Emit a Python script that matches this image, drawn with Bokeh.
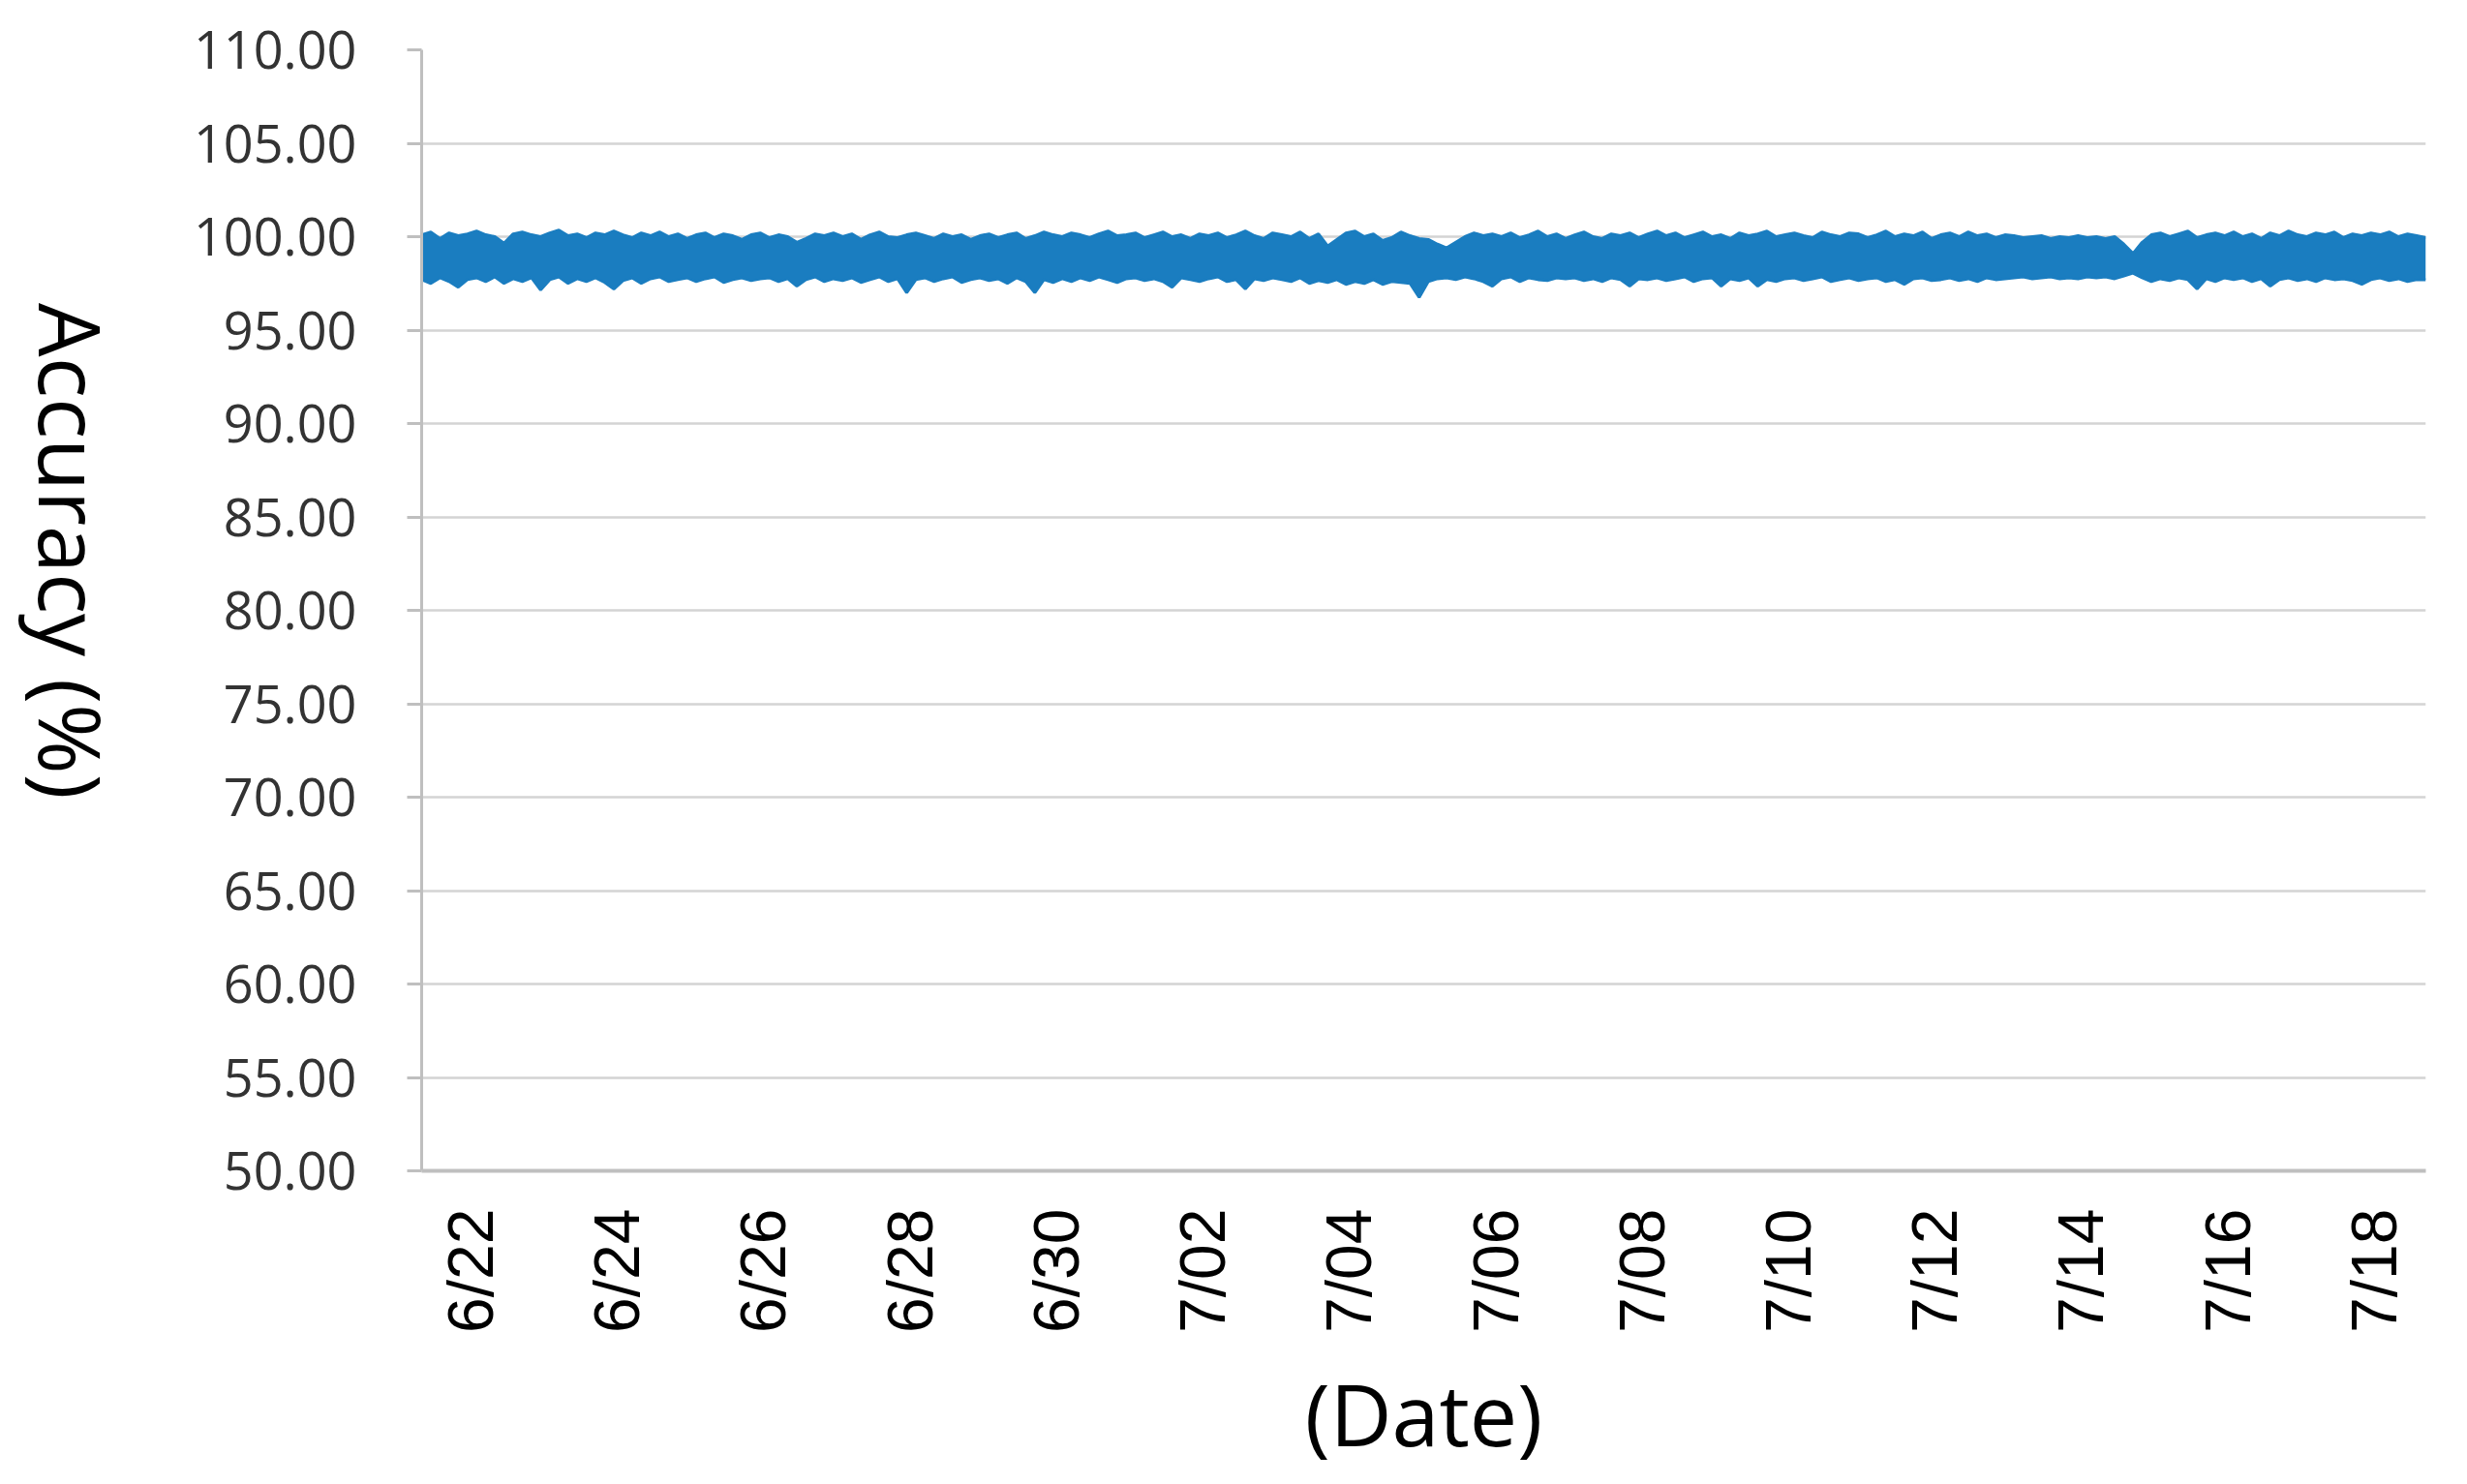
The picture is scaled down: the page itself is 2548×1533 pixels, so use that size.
from math import pi
import pandas as pd
from bokeh.plotting import figure
from bokeh.layouts import row
from bokeh.core.properties import value
from bokeh.models import FixedTicker, PrintfTickFormatter, Range1d, ColumnDataSource
from bokeh.embed import file_html
from bokeh.resources import INLINE

# ---------------- data ----------------
start_time = "2020-06-21 08:00"
end_time = "2020-07-18 17:00"
step = "3h"

# upper edge of the accuracy trace (%), 3-hour steps
upper = [
    100.1, 100.25, 99.9, 100.2, 100.05, 100.15,                  # 6/21 (from 08h)
    100.3, 100.1, 100.0, 99.65, 100.15, 100.25, 100.1, 100.0,     # 6/22
    100.2, 100.35, 100.05, 100.15, 99.95, 100.2, 100.1, 100.3,    # 6/23
    100.1, 99.95, 100.2, 100.05, 100.25, 100.0, 100.15, 99.9,     # 6/24
    100.1, 100.2, 99.95, 100.15, 100.05, 99.85, 100.1, 100.2,     # 6/25
    99.95, 100.1, 100.0, 99.7, 99.9, 100.15, 100.05, 100.2,       # 6/26
    100.0, 100.15, 99.85, 100.1, 100.25, 100.0, 99.95, 100.1,     # 6/27
    100.2, 100.05, 99.9, 100.15, 100.0, 100.1, 99.85, 100.05,     # 6/28
    100.15, 99.95, 100.1, 100.2, 99.9, 100.05, 100.25, 100.1,     # 6/29
    100.0, 100.2, 100.1, 99.95, 100.15, 100.3, 100.05, 100.1,     # 6/30
    100.2, 99.95, 100.1, 100.25, 100.0, 100.1, 99.9, 100.15,      # 7/01
    100.05, 100.2, 99.95, 100.1, 100.3, 100.05, 99.9, 100.2,      # 7/02
    100.1, 100.0, 100.25, 99.9, 100.15, 99.5, 99.85, 100.2,       # 7/03
    100.3, 100.0, 100.15, 99.8, 99.95, 100.25, 100.05, 99.9,      # 7/04
    99.85, 99.6, 99.4, 99.7, 100.0, 100.2, 100.05, 100.15,        # 7/05
    100.0, 100.2, 99.95, 100.1, 100.3, 100.0, 100.15, 99.9,       # 7/06
    100.1, 100.25, 100.0, 99.9, 100.15, 100.05, 100.2, 99.95,     # 7/07
    100.15, 100.3, 100.05, 100.2, 99.95, 100.1, 100.25, 100.0,    # 7/08
    100.1, 99.9, 100.2, 100.05, 100.15, 100.3, 100.0, 100.1,      # 7/09
    100.2, 100.05, 99.95, 100.25, 100.1, 100.0, 100.2, 100.15,    # 7/10
    99.95, 100.1, 100.3, 100.0, 100.15, 100.05, 100.25, 99.9,     # 7/11
    100.1, 100.2, 100.0, 100.25, 100.05, 100.15, 99.95, 100.1,    # 7/12
    100.05, 99.95, 100.0, 100.05, 99.9, 100.0, 99.95, 100.05,     # 7/13
    99.95, 100.0, 99.9, 100.0, 99.6, 99.1, 99.7, 100.1,           # 7/14
    100.2, 100.0, 100.15, 100.3, 99.95, 100.1, 100.2, 100.05,     # 7/15
    100.25, 100.0, 100.15, 99.9, 100.2, 100.05, 100.3, 100.1,     # 7/16
    100.0, 100.2, 100.1, 100.25, 99.95, 100.15, 100.05, 100.2,    # 7/17
    100.1, 100.25, 100.0, 100.15, 100.05, 99.95,                  # 7/18 (to 17h)
]

# lower edge of the accuracy trace (%), 3-hour steps
lower = [
    97.7, 97.5, 97.8, 97.6, 97.3, 97.7,                           # 6/21
    97.8, 97.6, 97.85, 97.5, 97.75, 97.6, 97.8, 97.15,            # 6/22
    97.7, 97.85, 97.5, 97.75, 97.6, 97.8, 97.55, 97.2,            # 6/23
    97.65, 97.8, 97.5, 97.75, 97.85, 97.6, 97.7, 97.8,            # 6/24
    97.6, 97.75, 97.85, 97.55, 97.7, 97.8, 97.65, 97.75,          # 6/25
    97.8, 97.6, 97.75, 97.35, 97.7, 97.85, 97.6, 97.75,           # 6/26
    97.65, 97.8, 97.55, 97.7, 97.85, 97.6, 97.75, 97.0,           # 6/27
    97.7, 97.8, 97.6, 97.75, 97.85, 97.55, 97.7, 97.8,            # 6/28
    97.65, 97.75, 97.5, 97.8, 97.6, 97.0, 97.7, 97.55,            # 6/29
    97.75, 97.6, 97.8, 97.65, 97.85, 97.7, 97.55, 97.75,          # 6/30
    97.8, 97.65, 97.75, 97.6, 97.3, 97.8, 97.7, 97.6,             # 7/01
    97.75, 97.85, 97.6, 97.7, 97.2, 97.75, 97.65, 97.8,           # 7/02
    97.7, 97.6, 97.8, 97.5, 97.65, 97.55, 97.7, 97.45,            # 7/03
    97.6, 97.5, 97.7, 97.45, 97.6, 97.55, 97.5, 96.75,            # 7/04
    97.6, 97.75, 97.8, 97.7, 97.85, 97.75, 97.6, 97.35,           # 7/05
    97.75, 97.85, 97.6, 97.8, 97.7, 97.65, 97.8, 97.75,           # 7/06
    97.8, 97.65, 97.75, 97.6, 97.8, 97.7, 97.35, 97.75,           # 7/07
    97.7, 97.8, 97.65, 97.75, 97.85, 97.6, 97.75, 97.8,           # 7/08
    97.35, 97.75, 97.65, 97.8, 97.35, 97.7, 97.6, 97.75,          # 7/09
    97.8, 97.65, 97.75, 97.85, 97.6, 97.7, 97.8, 97.65,           # 7/10
    97.75, 97.8, 97.6, 97.7, 97.45, 97.75, 97.8, 97.65,           # 7/11
    97.7, 97.8, 97.65, 97.75, 97.6, 97.8, 97.7, 97.75,            # 7/12
    97.8, 97.85, 97.75, 97.8, 97.85, 97.75, 97.8, 97.75,          # 7/13
    97.85, 97.8, 97.85, 97.75, 97.9, 98.05, 97.8, 97.6,           # 7/14
    97.75, 97.65, 97.8, 97.7, 97.2, 97.75, 97.6, 97.8,            # 7/15
    97.7, 97.8, 97.6, 97.75, 97.35, 97.7, 97.8, 97.65,            # 7/16
    97.75, 97.6, 97.8, 97.7, 97.75, 97.65, 97.45, 97.7,           # 7/17
    97.8, 97.65, 97.75, 97.6, 97.7, 97.7,                         # 7/18
]

y_ticks = [50, 55, 60, 65, 70, 75, 80, 85, 90, 95, 100, 105, 110]
tick_dates = ["2020-06-22", "2020-06-24", "2020-06-26", "2020-06-28", "2020-06-30",
              "2020-07-02", "2020-07-04", "2020-07-06", "2020-07-08", "2020-07-10",
              "2020-07-12", "2020-07-14", "2020-07-16", "2020-07-18"]
tick_labels = ["6/22", "6/24", "6/26", "6/28", "6/30", "7/02", "7/04", "7/06",
               "7/08", "7/10", "7/12", "7/14", "7/16", "7/18"]
y_title = "Accuracy (%)"
x_title = "(Date)"

# ---------------- build ----------------
def ms(s):
    return int(pd.Timestamp(s).value // 10**6)

TOTAL_W, TOTAL_H = 2540, 1525
TITLE_W = 150

n = min(len(upper), len(lower))
times = pd.date_range(start_time, periods=n, freq=step)
src = ColumnDataSource(dict(t=[int(t.value // 10**6) for t in times],
                            upper=upper[:n], lower=lower[:n]))

# narrow panel holding the y-axis title (reads top-to-bottom)
tp = figure(width=TITLE_W, height=TOTAL_H, output_backend="svg", toolbar_location=None,
            x_range=Range1d(0, TITLE_W), y_range=Range1d(0, TOTAL_H),
            min_border=0, x_axis_location=None, y_axis_location=None)
tp.outline_line_color = None
tp.xgrid.visible = False
tp.ygrid.visible = False
tp.background_fill_color = "white"
tp.border_fill_color = "white"
tp.text(x=[73], y=[843], text=[y_title], angle=-pi / 2,
        text_align="center", text_baseline="middle",
        text_font=value("Open Sans"), text_font_size="88px", text_color="#000000")

p = figure(width=TOTAL_W - TITLE_W, height=TOTAL_H, x_axis_type="datetime",
           output_backend="svg", toolbar_location=None,
           x_range=Range1d(ms(start_time), ms(end_time)),
           y_range=Range1d(50, 110),
           min_border_left=435 - TITLE_W, min_border_right=35,
           min_border_top=51, min_border_bottom=316)
p.background_fill_color = "white"
p.border_fill_color = "white"
p.outline_line_color = None

band_color = "#1a7dc0"
p.varea(x="t", y1="lower", y2="upper", source=src, fill_color=band_color)
p.line(x="t", y="upper", source=src, line_color=band_color, line_width=3)
p.line(x="t", y="lower", source=src, line_color=band_color, line_width=3)

# grid
p.xgrid.visible = False
p.ygrid.ticker = FixedTicker(ticks=y_ticks)
p.ygrid.grid_line_color = "#d4d4d4"
p.ygrid.grid_line_width = 2.5

# y axis
yax = p.yaxis[0]
yax.ticker = FixedTicker(ticks=y_ticks)
yax.formatter = PrintfTickFormatter(format="%.2f")
yax.axis_line_color = "#bfbfbf"
yax.axis_line_width = 3
yax.major_tick_line_color = "#bfbfbf"
yax.major_tick_line_width = 3
yax.major_tick_out = 15
yax.major_tick_in = 0
yax.minor_tick_line_color = None
yax.major_label_standoff = 52
yax.major_label_text_font = "Open Sans"
yax.major_label_text_font_size = "54px"
yax.major_label_text_color = "#333333"

# x axis
xax = p.xaxis[0]
tick_ms = [ms(d) for d in tick_dates]
xax.ticker = FixedTicker(ticks=tick_ms)
xax.major_label_overrides = {k: v for k, v in zip(tick_ms, tick_labels)}
xax.axis_line_color = "#bfbfbf"
xax.axis_line_width = 4
xax.major_tick_line_color = None
xax.minor_tick_line_color = None
xax.major_tick_out = 0
xax.major_tick_in = 0
xax.major_label_orientation = pi / 2
xax.major_label_standoff = 39
xax.major_label_text_font = "Liberation Sans"
xax.major_label_text_font_size = "66px"
xax.major_label_text_color = "#000000"
xax.axis_label = x_title
xax.axis_label_text_font = "Open Sans"
xax.axis_label_text_font_size = "88px"
xax.axis_label_text_font_style = "normal"
xax.axis_label_text_color = "#000000"
xax.axis_label_standoff = 20

layout = row(tp, p, spacing=0)
open("out.html", "w").write(file_html(layout, INLINE))
